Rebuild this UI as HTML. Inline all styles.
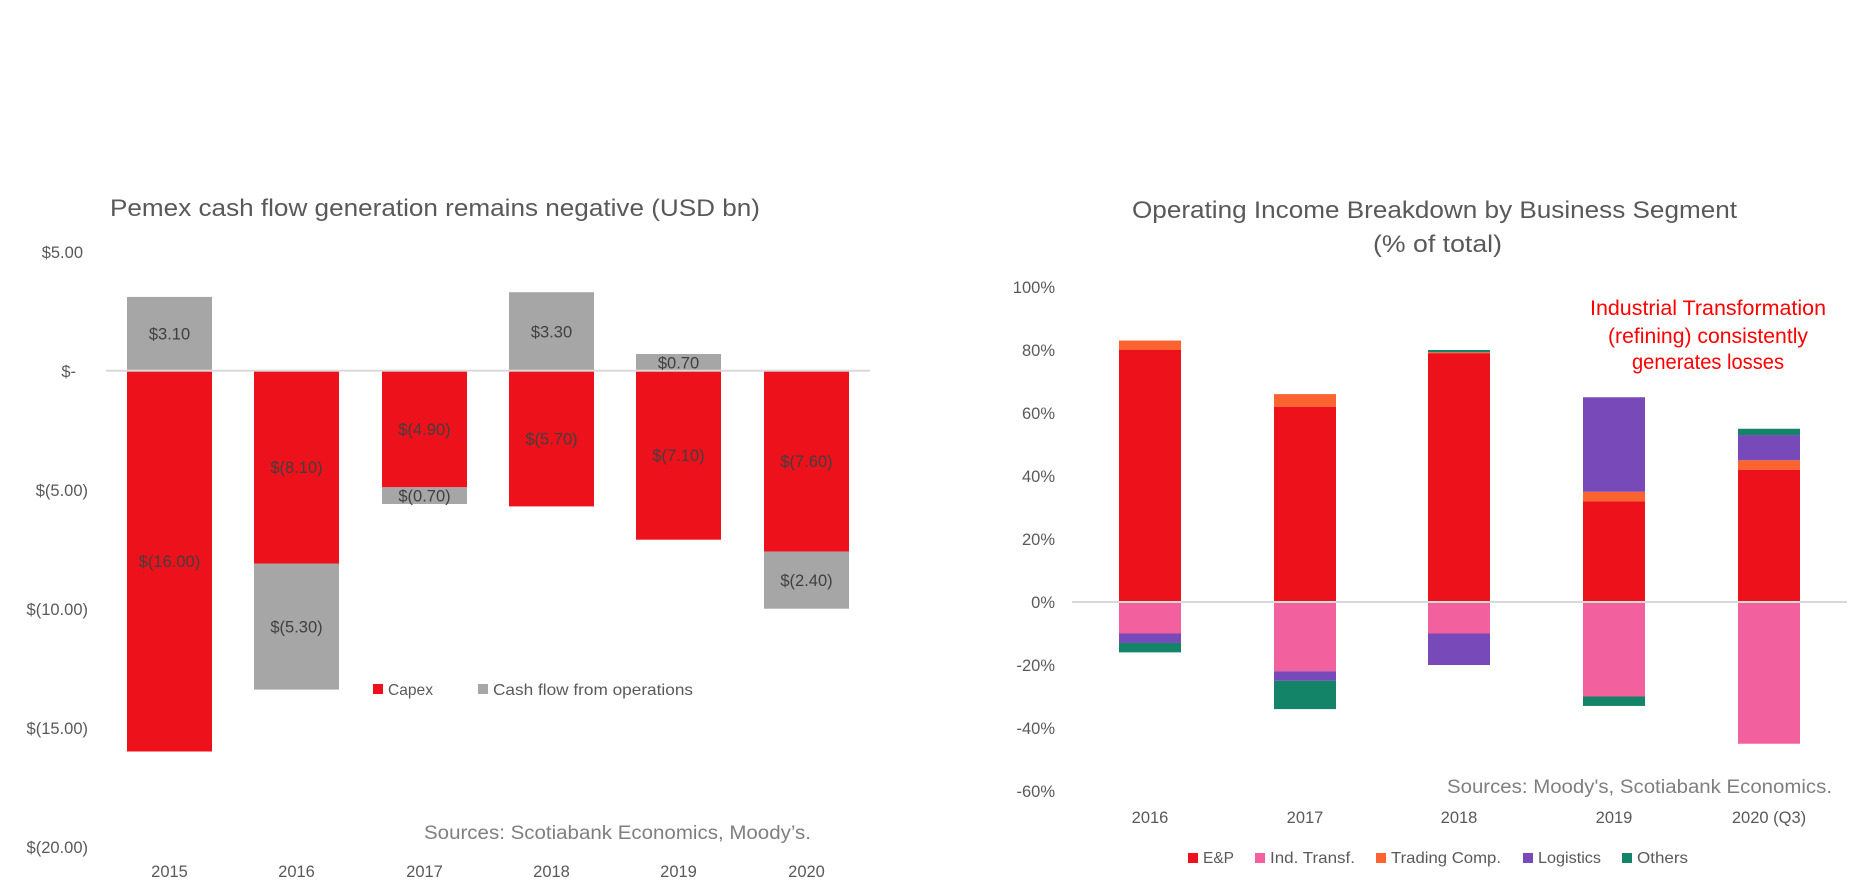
<!DOCTYPE html>
<html>
<head>
<meta charset="utf-8">
<style>
  html, body { margin:0; padding:0; background:#ffffff; }
  svg { display:block; }
  text { font-family: "Liberation Sans", sans-serif; }
</style>
</head>
<body>
<svg width="1870" height="888" viewBox="0 0 1870 888" xmlns="http://www.w3.org/2000/svg">
  <rect x="0" y="0" width="1870" height="888" fill="#ffffff"/>

  <!-- ================= LEFT CHART ================= -->
  <text x="110" y="216" font-size="24" fill="#595959" textLength="650" lengthAdjust="spacingAndGlyphs">Pemex cash flow generation remains negative (USD bn)</text>

  <!-- Y axis labels -->
  <g font-size="16.5" fill="#595959" text-anchor="end">
    <text x="83" y="258">$5.00</text>
    <text x="76" y="377">$-</text>
    <text x="88" y="496">$(5.00)</text>
    <text x="88" y="615">$(10.00)</text>
    <text x="88" y="734">$(15.00)</text>
    <text x="88" y="853">$(20.00)</text>
  </g>

  <!-- Bars -->
  <g>
    <!-- 2015 -->
    <rect x="127" y="296.9" width="85" height="73.8" fill="#a6a6a6"/>
    <rect x="127" y="370.7" width="85" height="380.8" fill="#ec111a"/>
    <!-- 2016 -->
    <rect x="254" y="370.7" width="85" height="192.8" fill="#ec111a"/>
    <rect x="254" y="563.5" width="85" height="126.1" fill="#a6a6a6"/>
    <!-- 2017 -->
    <rect x="382" y="370.7" width="85" height="116.6" fill="#ec111a"/>
    <rect x="382" y="487.3" width="85" height="16.7" fill="#a6a6a6"/>
    <!-- 2018 -->
    <rect x="509" y="292.2" width="85" height="78.5" fill="#a6a6a6"/>
    <rect x="509" y="370.7" width="85" height="135.7" fill="#ec111a"/>
    <!-- 2019 -->
    <rect x="636" y="354" width="85" height="16.7" fill="#a6a6a6"/>
    <rect x="636" y="370.7" width="85" height="169" fill="#ec111a"/>
    <!-- 2020 -->
    <rect x="764" y="370.7" width="85" height="180.9" fill="#ec111a"/>
    <rect x="764" y="551.6" width="85" height="57.1" fill="#a6a6a6"/>
  </g>

  <!-- zero line -->
  <rect x="106" y="369.7" width="764" height="2" fill="#d9d9d9"/>

  <!-- Data labels -->
  <g font-size="16.5" fill="#404040" text-anchor="middle">
    <text x="169.5" y="339.5">$3.10</text>
    <text x="169.5" y="567">$(16.00)</text>
    <text x="296.5" y="473">$(8.10)</text>
    <text x="296.5" y="632.5">$(5.30)</text>
    <text x="424.5" y="435">$(4.90)</text>
    <text x="424.5" y="501.7">$(0.70)</text>
    <text x="551.5" y="337.5">$3.30</text>
    <text x="551.5" y="444.5">$(5.70)</text>
    <text x="678.5" y="368.3">$0.70</text>
    <text x="678.5" y="461">$(7.10)</text>
    <text x="806.5" y="467">$(7.60)</text>
    <text x="806.5" y="586">$(2.40)</text>
  </g>

  <!-- Legend -->
  <rect x="373" y="684" width="10" height="10" fill="#ec111a"/>
  <text x="388" y="695" font-size="16" fill="#595959" textLength="45" lengthAdjust="spacingAndGlyphs">Capex</text>
  <rect x="478" y="684" width="10" height="10" fill="#a6a6a6"/>
  <text x="493" y="695" font-size="16" fill="#595959" textLength="200" lengthAdjust="spacingAndGlyphs">Cash flow from operations</text>

  <!-- Sources -->
  <text x="424" y="839" font-size="19" fill="#7f7f7f" textLength="387" lengthAdjust="spacingAndGlyphs">Sources: Scotiabank Economics, Moody’s.</text>

  <!-- X labels -->
  <g font-size="16.5" fill="#595959" text-anchor="middle">
    <text x="169.5" y="877">2015</text>
    <text x="296.5" y="877">2016</text>
    <text x="424.5" y="877">2017</text>
    <text x="551.5" y="877">2018</text>
    <text x="678.5" y="877">2019</text>
    <text x="806.5" y="877">2020</text>
  </g>

  <!-- ================= RIGHT CHART ================= -->
  <text x="1434.5" y="218" font-size="24" fill="#595959" text-anchor="middle" textLength="605" lengthAdjust="spacingAndGlyphs">Operating Income Breakdown by Business Segment</text>
  <text x="1437.5" y="252" font-size="24" fill="#595959" text-anchor="middle" textLength="129" lengthAdjust="spacingAndGlyphs">(% of total)</text>

  <!-- Y labels -->
  <g font-size="16.5" fill="#595959" text-anchor="end">
    <text x="1055" y="293">100%</text>
    <text x="1055" y="356">80%</text>
    <text x="1055" y="419">60%</text>
    <text x="1055" y="482">40%</text>
    <text x="1055" y="545">20%</text>
    <text x="1055" y="608">0%</text>
    <text x="1055" y="671">-20%</text>
    <text x="1055" y="734">-40%</text>
    <text x="1055" y="797">-60%</text>
  </g>

  <!-- Stacked bars -->
  <g>
    <!-- 2016 -->
    <rect x="1119" y="350" width="62" height="252" fill="#ec111a"/>
    <rect x="1119" y="340.55" width="62" height="9.45" fill="#fb6330"/>
    <rect x="1119" y="602" width="62" height="31.5" fill="#f2609e"/>
    <rect x="1119" y="633.5" width="62" height="9.45" fill="#7849b8"/>
    <rect x="1119" y="642.95" width="62" height="9.45" fill="#138468"/>
    <!-- 2017 -->
    <rect x="1274" y="406.7" width="62" height="195.3" fill="#ec111a"/>
    <rect x="1274" y="394.1" width="62" height="12.6" fill="#fb6330"/>
    <rect x="1274" y="602" width="62" height="69.3" fill="#f2609e"/>
    <rect x="1274" y="671.3" width="62" height="9.45" fill="#7849b8"/>
    <rect x="1274" y="680.75" width="62" height="28.35" fill="#138468"/>
    <!-- 2018 -->
    <rect x="1428" y="353.15" width="62" height="248.85" fill="#ec111a"/>
    <rect x="1428" y="352.2" width="62" height="0.95" fill="#fb6330"/>
    <rect x="1428" y="350" width="62" height="2.2" fill="#138468"/>
    <rect x="1428" y="602" width="62" height="31.5" fill="#f2609e"/>
    <rect x="1428" y="633.5" width="62" height="31.5" fill="#7849b8"/>
    <!-- 2019 -->
    <rect x="1583" y="501.2" width="62" height="100.8" fill="#ec111a"/>
    <rect x="1583" y="491.75" width="62" height="9.45" fill="#fb6330"/>
    <rect x="1583" y="397.25" width="62" height="94.5" fill="#7849b8"/>
    <rect x="1583" y="602" width="62" height="94.5" fill="#f2609e"/>
    <rect x="1583" y="696.5" width="62" height="9.45" fill="#138468"/>
    <!-- 2020 -->
    <rect x="1738" y="469.7" width="62" height="132.3" fill="#ec111a"/>
    <rect x="1738" y="460.25" width="62" height="9.45" fill="#fb6330"/>
    <rect x="1738" y="435.05" width="62" height="25.2" fill="#7849b8"/>
    <rect x="1738" y="428.75" width="62" height="6.3" fill="#138468"/>
    <rect x="1738" y="602" width="62" height="141.75" fill="#f2609e"/>
  </g>

  <!-- zero line -->
  <rect x="1072" y="601" width="775" height="2" fill="#d9d9d9"/>

  <!-- Annotation -->
  <g font-size="21" fill="#ff0000" text-anchor="middle">
    <text x="1708" y="315" textLength="236" lengthAdjust="spacingAndGlyphs">Industrial Transformation</text>
    <text x="1708" y="343" textLength="200" lengthAdjust="spacingAndGlyphs">(refining) consistently</text>
    <text x="1708" y="369" textLength="152" lengthAdjust="spacingAndGlyphs">generates losses</text>
  </g>

  <!-- Sources -->
  <text x="1447" y="793" font-size="19" fill="#7f7f7f" textLength="385" lengthAdjust="spacingAndGlyphs">Sources: Moody's, Scotiabank Economics.</text>

  <!-- X labels -->
  <g font-size="16.5" fill="#595959" text-anchor="middle">
    <text x="1150" y="823">2016</text>
    <text x="1305" y="823">2017</text>
    <text x="1459" y="823">2018</text>
    <text x="1614" y="823">2019</text>
    <text x="1769" y="823">2020 (Q3)</text>
  </g>

  <!-- Legend -->
  <g font-size="16" fill="#595959">
    <rect x="1188" y="853" width="10" height="10" fill="#ec111a"/>
    <text x="1203" y="863" textLength="31" lengthAdjust="spacingAndGlyphs">E&amp;P</text>
    <rect x="1255" y="853" width="10" height="10" fill="#f2609e"/>
    <text x="1270" y="863" textLength="85" lengthAdjust="spacingAndGlyphs">Ind. Transf.</text>
    <rect x="1376" y="853" width="10" height="10" fill="#fb6330"/>
    <text x="1391" y="863" textLength="110" lengthAdjust="spacingAndGlyphs">Trading Comp.</text>
    <rect x="1523" y="853" width="10" height="10" fill="#7849b8"/>
    <text x="1538" y="863" textLength="63" lengthAdjust="spacingAndGlyphs">Logistics</text>
    <rect x="1622" y="853" width="10" height="10" fill="#138468"/>
    <text x="1637" y="863" textLength="51" lengthAdjust="spacingAndGlyphs">Others</text>
  </g>
</svg>
</body>
</html>
